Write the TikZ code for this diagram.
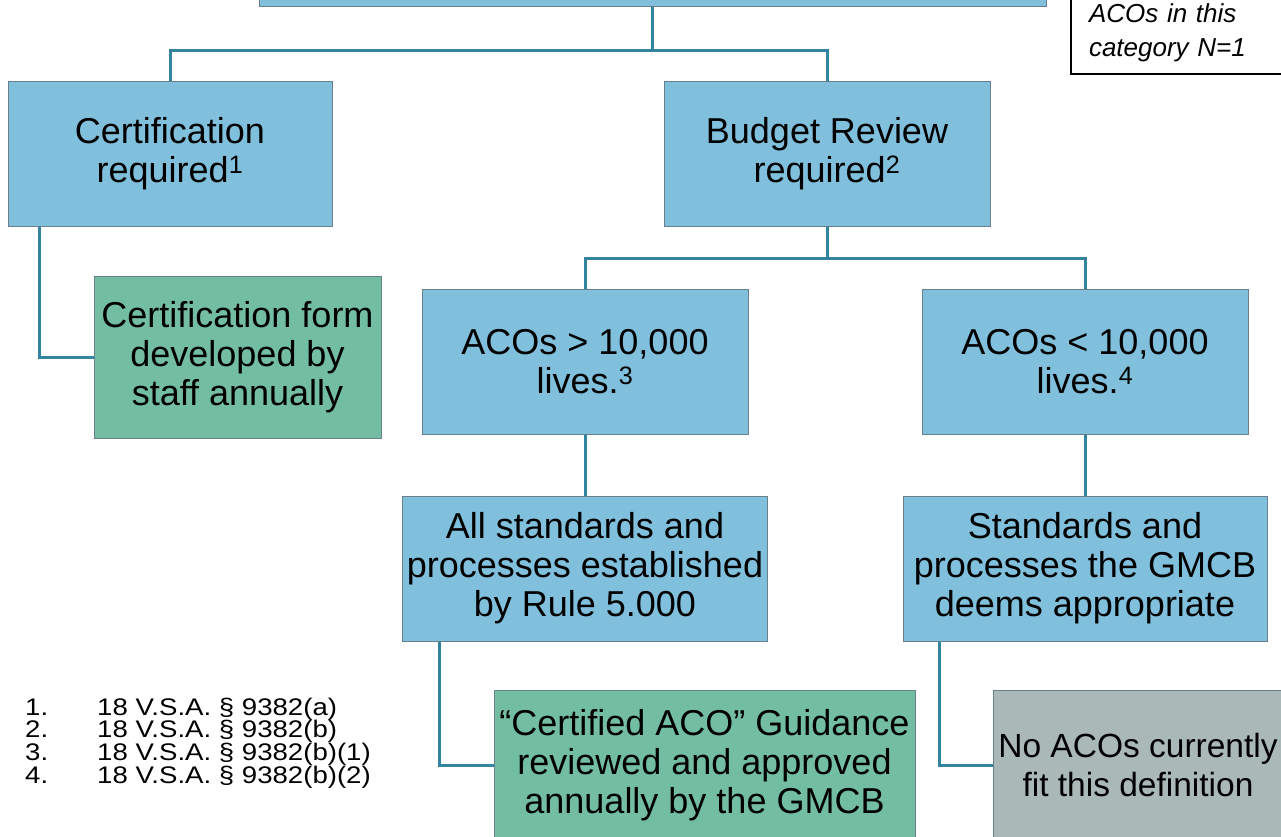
\documentclass[tikz,border=0pt]{standalone}
\usepackage{fontspec}
\setmainfont{Liberation Sans}
\newfontfamily\widesans{Liberation Sans}[FakeStretch=1.15]
\begin{document}
\begin{tikzpicture}[x=1pt,y=-1pt,
  box/.style={draw=box edge, fill=box area, line width=1pt, align=center, inner sep=0pt,
    minimum height=145pt, font=\fontsize{36}{39}\selectfont},
  result/.style={box, fill=result area},
  empty/.style={box, fill=empty area, font=\fontsize{33.5}{39}\selectfont},
  link/.style={draw=link edge, line width=3pt},
  note/.style={draw=black, line width=2pt, align=left, text width=210pt, inner xsep=18pt,
    inner ysep=12pt, font=\fontsize{26}{34}\selectfont\itshape},
  foot/.style={inner sep=0pt, font=\widesans\fontsize{24}{27}\selectfont}]
\definecolor{box edge}{RGB}{105,128,138}
\definecolor{box area}{RGB}{128,192,220}
\definecolor{result area}{RGB}{115,190,162}
\definecolor{empty area}{RGB}{171,184,184}
\definecolor{link edge}{RGB}{49,133,160}
\clip (0,0) rectangle (1281,836);

% boxes
\node[box, minimum width=787pt, minimum height=66pt] (top) at (652.5,-27) {};
\node[box, minimum width=324pt] (cert) at (170,153.5) {Certification\\required\textsuperscript{1}};
\node[box, minimum width=326pt] (budget) at (827,153.5) {Budget Review\\required\textsuperscript{2}};
\node[result, minimum width=287pt, minimum height=162pt] (form) at (237.5,357) {Certification form\\developed by\\staff annually};
\node[box, minimum width=326pt] (big) at (585,361.5) {ACOs > 10,000\\lives.\textsuperscript{3}};
\node[box, minimum width=326pt] (small) at (1085,361.5) {ACOs < 10,000\\lives.\textsuperscript{4}};
\node[box, minimum width=365pt] (allbig) at (585,568.5) {All standards and\\processes established\\by Rule 5.000};
\node[box, minimum width=364pt] (allsmall) at (1085,568.5) {Standards and\\processes the GMCB\\deems appropriate};
\node[result, minimum width=421pt, minimum height=150pt] (guide) at (704.5,765) {“Certified ACO” Guidance\\reviewed and approved\\annually by the GMCB};
\node[empty, minimum width=290pt, minimum height=150pt] (none) at (1138,765) {No ACOs currently\\fit this definition};
\node[note, anchor=south west] (count) at (1070,75) {ACOs in this\\category N=1};

% connectors
\draw[link] (top.south) -- ++(0,44) coordinate (split) -| (cert.north);
\draw[link] (split) -| (budget.north);
\draw[link] (budget.south) -- ++(0,32) coordinate (fork) -| (big.north);
\draw[link] (fork) -| (small.north);
\draw[link] (big.south) -- (allbig.north);
\draw[link] (small.south) -- (allsmall.north);
\draw[link] ([xshift=32pt]cert.south west) |- (form.west);
\draw[link] ([xshift=37pt]allbig.south west) |- (guide.west);
\draw[link] ([xshift=37pt]allsmall.south west) |- (none.west);

% footnotes
\foreach \n/\sect in {1/{(a)},2/{(b)},3/{(b)(1)},4/{(b)(2)}}{
  \node[foot, anchor=base west] (num\n) at (25,{692.3+22.7*\n}) {\n.};
  \node[foot, anchor=base west] (law\n) at (97,{692.3+22.7*\n}) {18 V.S.A. § 9382\sect};
}
\end{tikzpicture}
\end{document}
